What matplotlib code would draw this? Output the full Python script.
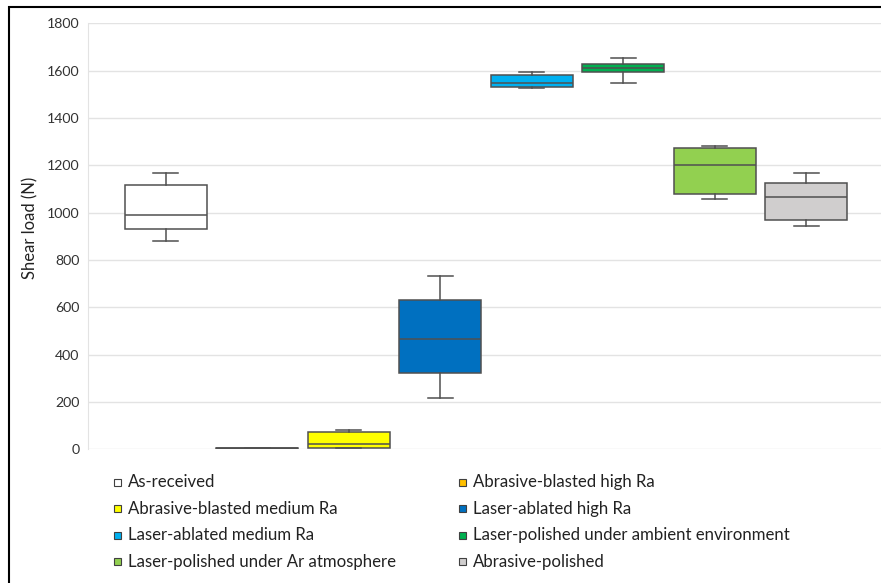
import matplotlib
matplotlib.use("Agg")
import matplotlib.pyplot as plt
from matplotlib.patches import Rectangle

plt.rcParams['font.family'] = ['Lato', 'DejaVu Sans']

categories = [
    "As-received",
    "Abrasive-blasted high Ra",
    "Abrasive-blasted medium Ra",
    "Laser-ablated high Ra",
    "Laser-ablated medium Ra",
    "Laser-polished under ambient environment",
    "Laser-polished under Ar atmosphere",
    "Abrasive-polished",
]
whisker_low = [880, 1, 4, 217, 1528, 1547, 1056, 945]
q1 = [930, 2, 6, 322, 1531, 1594, 1080, 969]
median = [989, 4, 21, 466, 1548, 1611, 1203, 1066]
q3 = [1118, 6, 72, 630, 1583, 1627, 1273, 1125]
whisker_high = [1169, 7, 80, 732, 1594, 1655, 1282, 1169]
colors = ["#FFFFFF", "#FFC000", "#FFFF00", "#0070C0",
          "#00B0F0", "#00B050", "#92D050", "#D0CECE"]
y_ticks = [0, 200, 400, 600, 800, 1000, 1200, 1400, 1600, 1800]

W, H = 881, 583
fig = plt.figure(figsize=(W / 100, H / 100), dpi=100)
ax = fig.add_axes([88 / W, 1 - 449.3 / H, (884 - 88) / W, (449.3 - 23.3) / H])

line_col = "#505050"
stats = []
for i, name in enumerate(categories):
    stats.append(dict(label=name, whislo=whisker_low[i], q1=q1[i], med=median[i],
                      q3=q3[i], whishi=whisker_high[i], fliers=[]))

positions = list(range(1, len(categories) + 1))
bp = ax.bxp(stats, positions=positions, widths=0.9, capwidths=0.27,
            patch_artist=True, showfliers=False,
            boxprops=dict(edgecolor=line_col, linewidth=1.1),
            medianprops=dict(color=line_col, linewidth=1.1),
            whiskerprops=dict(color=line_col, linewidth=1.1),
            capprops=dict(color=line_col, linewidth=1.1))
for patch, c in zip(bp['boxes'], colors):
    patch.set_facecolor(c)

ax.set_xlim(0.15, 8.85)
ax.set_ylim(0, 1800)
ax.set_yticks(y_ticks)
ax.set_xticks([])
ax.grid(axis='y', color="#E3E3E3", linewidth=1.0)
ax.set_axisbelow(True)
for side in ('top', 'right', 'bottom'):
    ax.spines[side].set_visible(False)
ax.spines['left'].set_color("#E3E3E3")
ax.tick_params(axis='y', length=0, pad=6, labelsize=10.2, labelcolor="#333333")
ax.set_ylabel("Shear load (N)", fontsize=12, color="#222222")
ax.yaxis.set_label_coords((38 - 88) / 796, 0.52)

# legend: two columns of square swatches with labels
col_x = [117.5, 462.5]
row_y0, row_step = 482, 26.6
sq = 7
for i, (name, c) in enumerate(zip(categories, colors)):
    row, col = divmod(i, 2)
    x = col_x[col]
    y = row_y0 + row * row_step
    fig.add_artist(Rectangle(((x - sq / 2) / W, 1 - (y + sq / 2) / H), sq / W, sq / H,
                             transform=fig.transFigure, facecolor=c,
                             edgecolor="#404040", linewidth=0.8))
    fig.text((x + 10.5) / W, 1 - y / H, name, fontsize=12.1, color="#222222",
             va='center', ha='left')

# outer frame
fig.add_artist(Rectangle((9 / W, -0.1), 1.2, 1.1 - 7 / H, transform=fig.transFigure,
                         fill=False, edgecolor="black", linewidth=1.5))

fig.savefig("out.png", dpi=100)
